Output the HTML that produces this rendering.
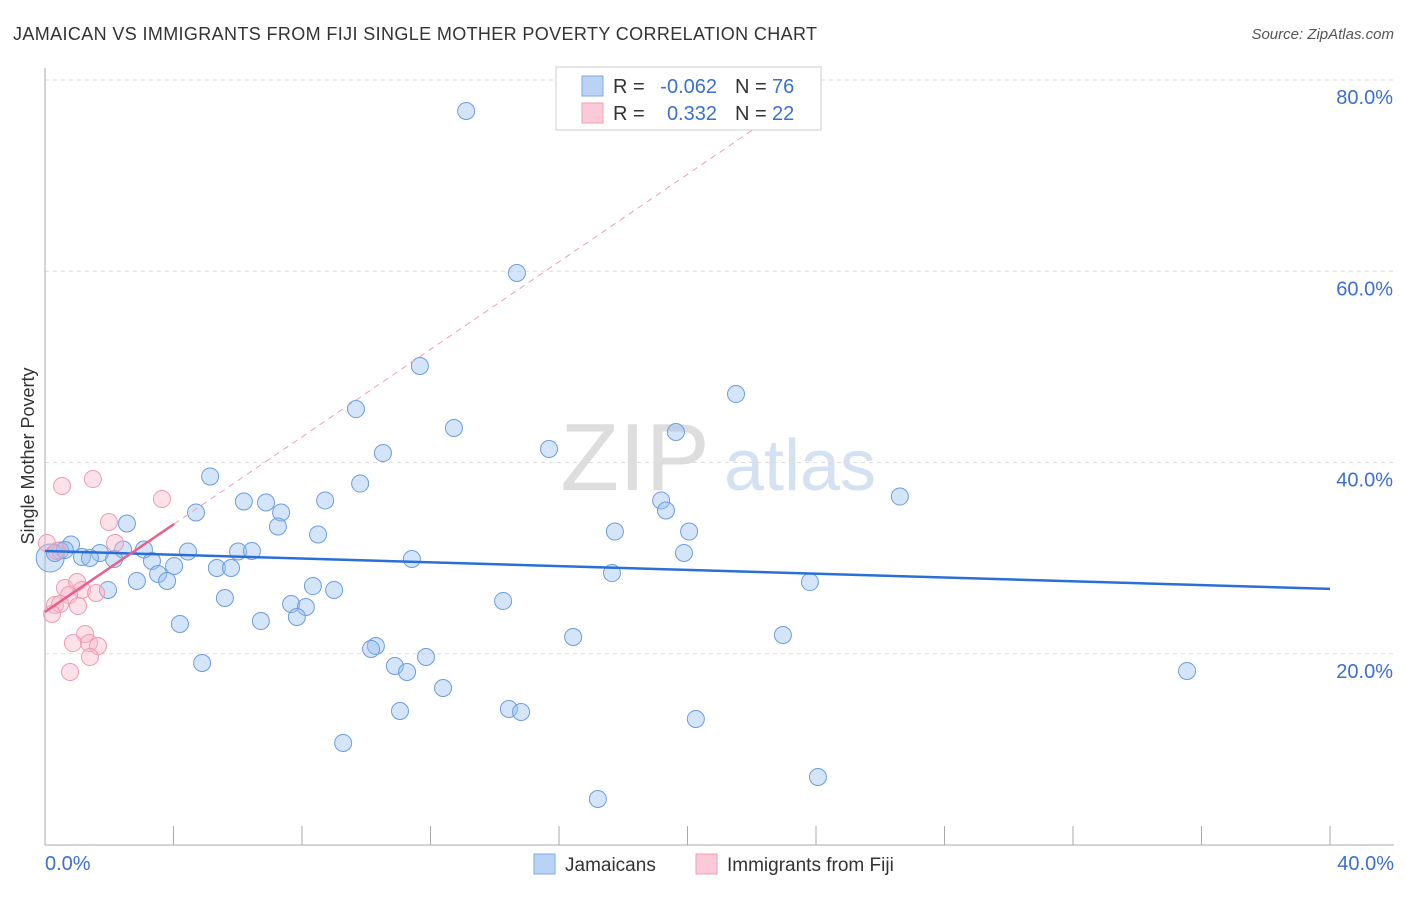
<!DOCTYPE html>
<html><head><meta charset="utf-8"><style>
body{margin:0;background:#fff;font-family:"Liberation Sans",sans-serif;}
svg text{font-family:"Liberation Sans",sans-serif;}
</style></head><body>
<svg id="chart" width="1406" height="892" xmlns="http://www.w3.org/2000/svg">
<text x="13" y="40" font-size="18" fill="#333" textLength="804" lengthAdjust="spacing">JAMAICAN VS IMMIGRANTS FROM FIJI SINGLE MOTHER POVERTY CORRELATION CHART</text>
<text x="1394" y="39" font-size="15" fill="#555" text-anchor="end" font-style="italic">Source: ZipAtlas.com</text>
<text transform="translate(34,456) rotate(-90)" font-size="18" fill="#333" text-anchor="middle">Single Mother Poverty</text>
<g><text x="635" y="490" font-size="96" fill="#ddd" text-anchor="middle" font-family="Liberation Serif">ZIP</text><text x="800" y="490" font-size="72" fill="#d4e1f2" text-anchor="middle">atlas</text></g>
<g id="grid"></g><g id="axes"></g><g id="marks"></g>
<g>
<rect x="556" y="67" width="265" height="63" fill="#fff" stroke="#ccc"/>
<rect x="582" y="76" width="21" height="20" fill="#b9d3f5" stroke="#7fa9e0"/>
<rect x="582" y="103" width="21" height="20" fill="#fcc9d8" stroke="#f0a0b8"/>
<text x="613" y="93" font-size="20" fill="#333">R =</text>
<text x="717" y="93" font-size="20" fill="#3b6fd0" text-anchor="end">-0.062</text>
<text x="735" y="93" font-size="20" fill="#333">N =</text>
<text x="772" y="93" font-size="20" fill="#3b6fd0">76</text>
<text x="613" y="120" font-size="20" fill="#333">R =</text>
<text x="717" y="120" font-size="20" fill="#3b6fd0" text-anchor="end">0.332</text>
<text x="735" y="120" font-size="20" fill="#333">N =</text>
<text x="772" y="120" font-size="20" fill="#3b6fd0">22</text>
</g>
<g>
<rect x="534" y="854" width="21" height="20" fill="#b9d3f5" stroke="#7fa9e0"/>
<text x="565" y="871" font-size="19" fill="#333">Jamaicans</text>
<rect x="696" y="854" width="21" height="20" fill="#fcc9d8" stroke="#f0a0b8"/>
<text x="727" y="871" font-size="19" fill="#333">Immigrants from Fiji</text>
</g>
</svg>
<script>
const yTicks=[20,40,60,80];
const yTickLabels=["20.0%","40.0%","60.0%","80.0%"];
const xTicks=[0,4,8,12,16,20,24,28,32,36,40];
const xEndLabels=["0.0%","40.0%"];
const jamX=[13.11,14.69,11.67,21.51,9.68,12.73,15.69,10.52,19.64,5.14,9.81,26.61,6.19,6.88,8.72,19.18,4.70,7.35,19.33,2.55,7.25,8.50,17.74,20.05,0.81,0.47,2.43,3.08,4.45,6.01,6.44,1.71,1.15,1.40,2.15,11.42,19.89,3.33,4.02,3.52,5.35,5.79,17.65,2.86,3.80,23.81,1.96,8.34,9.00,5.60,7.66,8.12,14.26,7.84,4.20,6.72,16.44,22.97,10.30,10.15,10.89,11.27,11.86,4.89,35.55,12.39,11.05,14.44,14.82,20.26,9.28,24.06,17.21,0.16,0.31,0.62];
const jamY=[76.76,59.82,50.09,47.16,45.59,43.61,41.41,40.99,43.19,38.54,37.80,36.44,35.92,35.82,36.03,36.03,34.77,34.77,34.98,33.62,33.31,32.47,32.78,32.78,31.42,30.80,30.90,30.90,30.69,30.69,30.75,30.54,30.12,30.01,29.91,29.91,30.54,29.70,29.18,28.34,28.97,28.97,28.44,27.61,27.61,27.50,26.67,27.08,26.67,25.83,25.20,24.89,25.52,23.84,23.11,23.42,21.75,21.96,20.81,20.50,18.72,18.09,19.66,19.03,18.20,16.42,14.01,14.22,13.91,13.18,10.67,7.11,4.81,30.01,30.54,30.85];
const fijiX=[0.53,1.49,3.64,1.99,2.18,0.06,0.37,0.62,1.00,1.15,1.59,0.75,1.03,0.31,0.47,0.22,1.25,0.87,1.37,1.65,1.40,0.78];
const fijiY=[37.54,38.27,36.18,33.78,31.58,31.58,30.75,26.88,27.50,26.67,26.35,26.14,24.99,25.10,25.20,24.16,22.07,21.12,21.12,20.81,19.66,18.09];
const jamTrend=[30.75,26.78];
const fijiTrend=[24.37,33.57];
const fijiTrendEndX=4.02;
const sx=v=>45+v*32.125, sy=v=>845-v*9.5625;
const NS="http://www.w3.org/2000/svg";
function mk(p,t,a){const e=document.createElementNS(NS,t);for(const k in a)e.setAttribute(k,a[k]);p.appendChild(e);return e;}
const grid=document.getElementById('grid'),axes=document.getElementById('axes'),marks=document.getElementById('marks');
yTicks.forEach((t,i)=>{
 const l=mk(grid,'line',{x1:45,x2:1394,y1:sy(t),y2:sy(t),stroke:'#ddd','stroke-dasharray':'4,4'});
 
 
 const tx=mk(axes,'text',{x:1393,y:sy(t)+24,'font-size':20,fill:'#3b6fd0','text-anchor':'end'});
 tx.textContent=yTickLabels[i];
 
 
});
const ya=mk(axes,'line',{x1:45,x2:45,y1:68,y2:845,stroke:'#aaa'});


const xa=mk(axes,'line',{x1:45,x2:1394,y1:845,y2:845,stroke:'#aaa'});


xTicks.forEach(t=>{const l=mk(axes,'line',{x1:sx(t),x2:sx(t),y1:826,y2:845,stroke:'#aaa'});
 
 });
[[0,'start',45],[40,'end',1394]].forEach((d,i)=>{const tx=mk(axes,'text',{x:d[2],y:870,'font-size':20,fill:'#3b6fd0','text-anchor':d[1]});tx.textContent=xEndLabels[i];
 
 });
jamX.forEach((x,i)=>{const r=(i===73)?14:8.5;const c=mk(marks,'circle',{cx:sx(x),cy:sy(jamY[i]),r:r,fill:'rgba(150,190,240,0.4)',stroke:'#6a9de0','stroke-width':1});
 
 });
fijiX.forEach((x,i)=>{const c=mk(marks,'circle',{cx:sx(x),cy:sy(fijiY[i]),r:8.5,fill:'rgba(250,180,200,0.4)',stroke:'#ee9ab5','stroke-width':1});
 
 });
const slope=(fijiTrend[1]-fijiTrend[0])/fijiTrendEndX;
const xTop=(79-fijiTrend[0])/slope;
const dl=mk(marks,'line',{x1:sx(fijiTrendEndX),y1:sy(fijiTrend[1]),x2:sx(xTop),y2:sy(79),stroke:'#eaa0b8','stroke-dasharray':'6,5','stroke-width':1});


const jl=mk(marks,'line',{x1:sx(0),y1:sy(jamTrend[0]),x2:sx(40),y2:sy(jamTrend[1]),stroke:'#2a6fd6','stroke-width':2.5});


const fl=mk(marks,'line',{x1:sx(0),y1:sy(fijiTrend[0]),x2:sx(fijiTrendEndX),y2:sy(fijiTrend[1]),stroke:'#e8608a','stroke-width':2.5});


</script>
</body></html>
